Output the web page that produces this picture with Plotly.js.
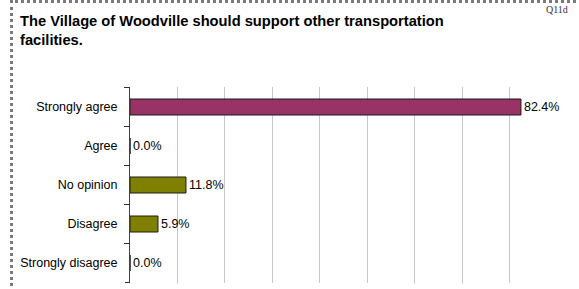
<!DOCTYPE html>
<html>
<head>
<meta charset="utf-8">
<script src="https://cdn.plot.ly/plotly-3.0.1.min.js"></script>
<style>
  html, body { margin: 0; padding: 0; background: #fff; overflow: hidden; }
  #frame { position: absolute; left: 10px; top: 0px; width: 566px; height: 310px;
           border: 3px dotted #7a7a7a; box-sizing: content-box; }
  #chart { position: absolute; left: 0; top: 0; width: 579px; height: 289px; }
</style>
</head>
<body>
<div id="frame"></div>
<div id="chart"></div>
<script>
const categories = ["Strongly agree", "Agree", "No opinion", "Disagree", "Strongly disagree"];
const values = [82.4, 0.0, 11.8, 5.9, 0.0];
const barColors = ["#993366", "#808000", "#808000", "#808000", "#808000"];
const titleLines = ["The Village of Woodville should support other transportation", "facilities."];
const cornerLabel = "Q11d";

const W = 579, H = 289;
const L = 130, R = 557, T = 87, B = 283;
const px2x = p => (p - L) / (R - L);
const py2y = p => 1 - (p - T) / (B - T);

const trace = {
  type: "bar",
  orientation: "h",
  y: categories,
  x: values,
  marker: { color: barColors, line: { color: "#1a1a1a", width: 1 } },
  text: values.map(v => v.toFixed(1) + "%"),
  textposition: "outside",
  textfont: { family: "Liberation Sans, Arial, sans-serif", size: 12.5, color: "#000" },
  cliponaxis: false,
  hoverinfo: "none"
};

const titleFont = { family: "Liberation Sans, Arial, sans-serif", size: 14.7, color: "#000", weight: "bold" };
const annotations = titleLines.map((t, i) => ({
  text: t,
  xref: "paper", yref: "paper",
  x: px2x(18), xanchor: "left", align: "left",
  y: py2y(31.5 + 19 * i), yanchor: "bottom",
  showarrow: false,
  font: titleFont
}));
annotations.push({
  text: cornerLabel,
  xref: "paper", yref: "paper",
  x: px2x(570), xanchor: "right",
  y: py2y(2), yanchor: "top",
  showarrow: false,
  font: { family: "Liberation Serif, Times New Roman, serif", size: 10, color: "#333" }
});

// category boundary tick marks on the value axis side
const shapes = [];
for (let i = 0; i <= categories.length; i++) {
  shapes.push({
    type: "line", xref: "paper", yref: "y",
    x0: px2x(125), x1: 0, y0: i - 0.5, y1: i - 0.5,
    line: { color: "#303030", width: 1 }
  });
}

const layout = {
  width: W, height: H,
  margin: { l: L, r: W - R, t: T, b: H - B, pad: 0 },
  paper_bgcolor: "rgba(0,0,0,0)",
  plot_bgcolor: "rgba(0,0,0,0)",
  showlegend: false,
  bargap: 0.59,
  font: { family: "Liberation Sans, Arial, sans-serif", size: 12.5, color: "#000" },
  xaxis: {
    range: [0, 90], dtick: 10, tick0: 0,
    showgrid: true, gridcolor: "#c8c8c8", gridwidth: 1,
    zeroline: false, showline: false, showticklabels: false, ticks: "",
    fixedrange: true
  },
  yaxis: {
    autorange: "reversed",
    type: "category",
    showline: true, linecolor: "#404040", linewidth: 1,
    ticks: "outside", ticklen: 5, tickcolor: "#303030", tickwidth: 1,
    tickson: "boundaries",
    ticklabelstandoff: 9,
    showgrid: false, zeroline: false,
    tickfont: { family: "Liberation Sans, Arial, sans-serif", size: 12.5, color: "#000" },
    fixedrange: true
  },
  shapes: shapes,
  annotations: annotations
};

Plotly.newPlot("chart", [trace], layout, { displayModeBar: false, staticPlot: true });
</script>
</body>
</html>
